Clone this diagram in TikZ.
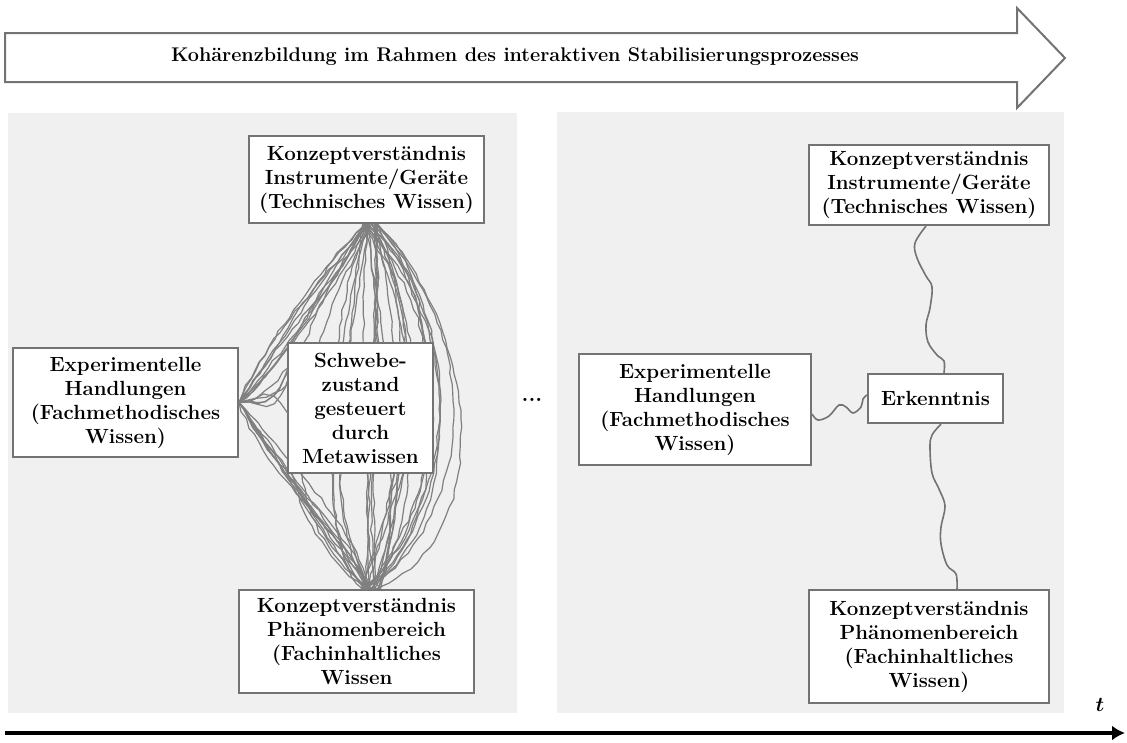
\documentclass[tikz,border=0pt]{standalone}
\usepackage{amsmath}
\usepackage{tikz}
\usetikzlibrary{arrows.meta,decorations.pathmorphing}

\begin{document}
\begin{tikzpicture}[x=1pt,y=-1pt,
  wbox/.style={draw=black!55,line width=2.2pt,fill=white,align=center,inner sep=1pt,
    font=\fontsize{20.5}{24}\selectfont\bfseries},
  tangle/.style={draw=black!50,line width=1.2pt,decorate,
    decoration={random steps,segment length=9pt,amplitude=1.3pt}},
  wiggle/.style={draw=black!55,line width=1.6pt}]

\useasboundingbox (0,0) rectangle (1127,742);

% Prozess-Pfeil oben
\draw[draw=black!55,line width=2pt,fill=white] (5,33) -- (1017,33) -- (1017,8) -- (1065,58)
  -- (1017,108) -- (1017,82) -- (5,82) -- cycle;
\node[font=\fontsize{19.8}{22}\selectfont\bfseries] (kohaerenz) at (515,57)
  {Kohärenzbildung im Rahmen des interaktiven Stabilisierungsprozesses};

% Hintergrundflaechen
\fill[black!6] (8,113) rectangle (517,713);
\fill[black!6] (557,112) rectangle (1064,713);

% linke Seite
\node[wbox,minimum width=235pt,minimum height=87pt] (kwtech) at (366.5,179.5)
  {Konzeptverständnis\\Instrumente/Geräte\\(Technisches Wissen)};
\node[wbox,minimum width=225pt,minimum height=109pt] (exphand) at (125.5,402.5)
  {Experimentelle\\Handlungen\\(Fachmethodisches\\Wissen)};
\node[wbox,minimum width=235pt,minimum height=103pt] (kwphaen) at (356.5,641.5)
  {Konzeptverständnis\\Phänomenbereich\\(Fachinhaltliches\\Wissen};

% Schwebezustand: viele Verbindungen
\pgfmathsetseed{42}
\foreach \i in {1,...,28}{
  \pgfmathsetmacro\xa{285+190*rnd}
  \pgfmathsetmacro\xb{\xa+120*(rnd-0.5)}
  \pgfmathsetmacro\ya{280+80*rnd}
  \pgfmathsetmacro\yb{470+80*rnd}
  \draw[tangle] ([xshift=12pt-16pt*rnd]kwtech.south) .. controls (\xa,\ya) and (\xb,\yb)
    .. ([xshift=4pt+20pt*rnd]kwphaen.north);
}
\foreach \i in {1,...,9}{
  \draw[tangle] (exphand.east) .. controls (255+50*rnd,330+40*rnd) and (320+40*rnd,245+30*rnd) .. (kwtech.south);
  \draw[tangle] (exphand.east) .. controls (255+60*rnd,450+60*rnd) and (330+40*rnd,540+30*rnd) .. ([xshift=12pt]kwphaen.north);
}

\node[wbox,minimum width=145pt,minimum height=130pt] (schwebe) at (360.5,408)
  {Schwebe-\\zustand\\gesteuert\\durch\\Metawissen};

\foreach \i in {1,...,6}{
  \draw[tangle] (exphand.east) .. controls (255,400) and (270,380+50*rnd) .. ([yshift=50pt-100pt*rnd]schwebe.west);
}

\node[font=\fontsize{22}{22}\selectfont\bfseries] (dots) at (532,400) {...};

% rechte Seite
\node[wbox,minimum width=240pt,minimum height=80pt] (kwtechR) at (929,185)
  {Konzeptverständnis\\Instrumente/Geräte\\(Technisches Wissen)};
\node[wbox,minimum width=232pt,minimum height=111pt] (exphandR) at (695,409.5)
  {Experimentelle\\Handlungen\\(Fachmethodisches\\Wissen)};
\node[wbox,minimum width=135pt,minimum height=49pt] (erkenntnis) at (935.5,398.5) {Erkenntnis};
\node[wbox,minimum width=240pt,minimum height=113pt] (kwphaenR) at (929,646.5)
  {Konzeptverständnis\\Phänomenbereich\\(Fachinhaltliches\\Wissen)};

\draw[wiggle] plot[smooth,tension=0.6] coordinates {([xshift=-3pt]kwtechR.south) (915,243) (917,258)
  (926,276) (932,287) (930,308) (926,325) (928,342) (937,355) (944,361) ([xshift=8.5pt]erkenntnis.north)};
\draw[wiggle] plot[smooth,tension=0.6] coordinates {([xshift=5.5pt]erkenntnis.south) (932,435) (930,447)
  (932,473) (939,489) (945,506) (941,527) (941,544) (947,565) (956,574) ([xshift=28pt]kwphaenR.north)};
\draw[wiggle] plot[smooth,tension=0.6] coordinates {([yshift=-4.5pt]exphandR.east) (818,420) (829,416)
  (839,405) (846,407) (853,413) (861,407) (863,399) ([yshift=3.5pt]erkenntnis.west)};

% Zeitachse
\coordinate (zeitA) at (5,733);
\coordinate (zeitB) at (1125,733);
\draw[line width=4.5pt,-{Latex[length=13pt,width=15pt]}] (zeitA) -- (zeitB);
\node[font=\fontsize{22}{24}\selectfont\boldmath] (zeit) at (1100,705) {$t$};

\end{tikzpicture}
\end{document}
